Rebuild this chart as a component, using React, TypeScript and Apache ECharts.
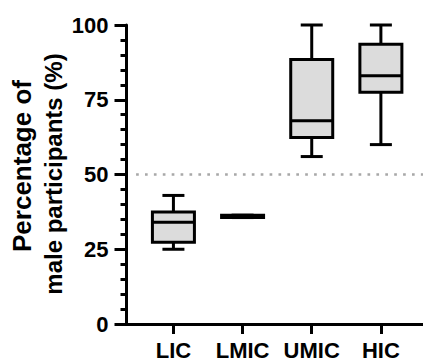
import React, { useEffect, useRef } from "react";
import * as echarts from "echarts";

const categories = ["LIC", "LMIC", "UMIC", "HIC"];
const mins = [25, 35.6, 56, 60];
const q1s = [27.3, 35.6, 62.4, 77.5];
const medians = [34, 36, 68, 83];
const q3s = [37.5, 36.4, 88.5, 93.6];
const maxs = [43, 36.4, 100, 100];
const yTicks = [0, 25, 50, 75, 100];
const yTitleLines = ["Percentage of", "male participants (%)"];
const referenceLevel = 50;
const referenceStart = 0.46;

const FONT = "'Liberation Sans', Arial, Helvetica, sans-serif";

export default function App() {
  const ref = useRef<HTMLDivElement>(null);
  useEffect(() => {
    if (!ref.current) return;
    const chart = echarts.init(ref.current, null, { renderer: "svg" });
    const xMin = 0.3215;
    const xMax = 4.609;
    const boxData = categories.map((_, i) => [i + 1, mins[i], q1s[i], medians[i], q3s[i], maxs[i]]);
    const black = { stroke: "#000", lineWidth: 3 };
    chart.setOption({
      animation: false,
      grid: { left: 126.5, right: 0, top: 25, bottom: 39 },
      graphic: [
        {
          type: "text",
          x: 21.5,
          y: 166,
          rotation: Math.PI / 2,
          style: {
            text: yTitleLines[0],
            fontSize: 26,
            fontWeight: "bold",
            fontFamily: FONT,
            fill: "#000",
            align: "center",
            verticalAlign: "middle",
          },
        },
        {
          type: "text",
          x: 53,
          y: 174,
          rotation: Math.PI / 2,
          style: {
            text: yTitleLines[1],
            fontSize: 24,
            fontWeight: "bold",
            fontFamily: FONT,
            fill: "#000",
            align: "center",
            verticalAlign: "middle",
          },
        },
      ],
      xAxis: {
        type: "value",
        min: xMin,
        max: xMax,
        splitLine: { show: false },
        axisLine: { show: true, onZero: false, lineStyle: { color: "#000", width: 3 } },
        axisTick: {
          show: true,
          length: 10,
          customValues: categories.map((_, i) => i + 1),
          lineStyle: { color: "#000", width: 3 },
        },
        axisLabel: {
          customValues: categories.map((_, i) => i + 1),
          formatter: (v: number) => categories[Math.round(v) - 1] ?? "",
          fontSize: 22,
          fontWeight: "bold",
          fontFamily: FONT,
          color: "#000",
          margin: 15,
        },
      },
      yAxis: {
        type: "value",
        min: yTicks[0],
        max: yTicks[yTicks.length - 1],
        interval: 25,
        splitLine: { show: false },
        axisLine: { show: true, lineStyle: { color: "#000", width: 3 } },
        axisTick: { show: true, length: 12, lineStyle: { color: "#000", width: 3 } },
        minorTick: { show: true, splitNumber: 5, length: 6, lineStyle: { color: "#000", width: 3 } },
        axisLabel: {
          fontSize: 22,
          fontWeight: "bold",
          fontFamily: FONT,
          color: "#000",
          margin: 18,
        },
      },
      series: [
        {
          type: "line",
          data: [
            [referenceStart, referenceLevel],
            [xMax, referenceLevel],
          ],
          symbol: "none",
          silent: true,
          lineStyle: { color: "#a8a8a8", width: 2.7, type: [2.7, 6.2] },
          z: 1,
        },
        {
          type: "custom",
          clip: false,
          encode: { x: 0, y: [1, 2, 3, 4, 5] },
          data: boxData,
          z: 3,
          renderItem: (params: any, api: any) => {
            const x = api.value(0);
            const cx = api.coord([x, api.value(1)])[0];
            const yMin = api.coord([x, api.value(1)])[1];
            const yQ1 = api.coord([x, api.value(2)])[1];
            const yMed = api.coord([x, api.value(3)])[1];
            const yQ3 = api.coord([x, api.value(4)])[1];
            const yMax = api.coord([x, api.value(5)])[1];
            const hw = 21;
            const cw = 11;
            return {
              type: "group",
              children: [
                { type: "line", shape: { x1: cx, y1: yQ3, x2: cx, y2: yMax }, style: black },
                { type: "line", shape: { x1: cx - cw, y1: yMax, x2: cx + cw, y2: yMax }, style: black },
                { type: "line", shape: { x1: cx, y1: yQ1, x2: cx, y2: yMin }, style: black },
                { type: "line", shape: { x1: cx - cw, y1: yMin, x2: cx + cw, y2: yMin }, style: black },
                {
                  type: "rect",
                  shape: { x: cx - hw, y: yQ3, width: 2 * hw, height: yQ1 - yQ3 },
                  style: { fill: "#dcdcdc", stroke: "#000", lineWidth: 3 },
                },
                { type: "line", shape: { x1: cx - hw, y1: yMed, x2: cx + hw, y2: yMed }, style: black },
              ],
            };
          },
        },
      ],
    });
    return () => chart.dispose();
  }, []);
  return (
    <div
      ref={ref}
      style={{ position: "fixed", left: 0, top: 0, width: 423, height: 363, background: "#fff" }}
    />
  );
}
